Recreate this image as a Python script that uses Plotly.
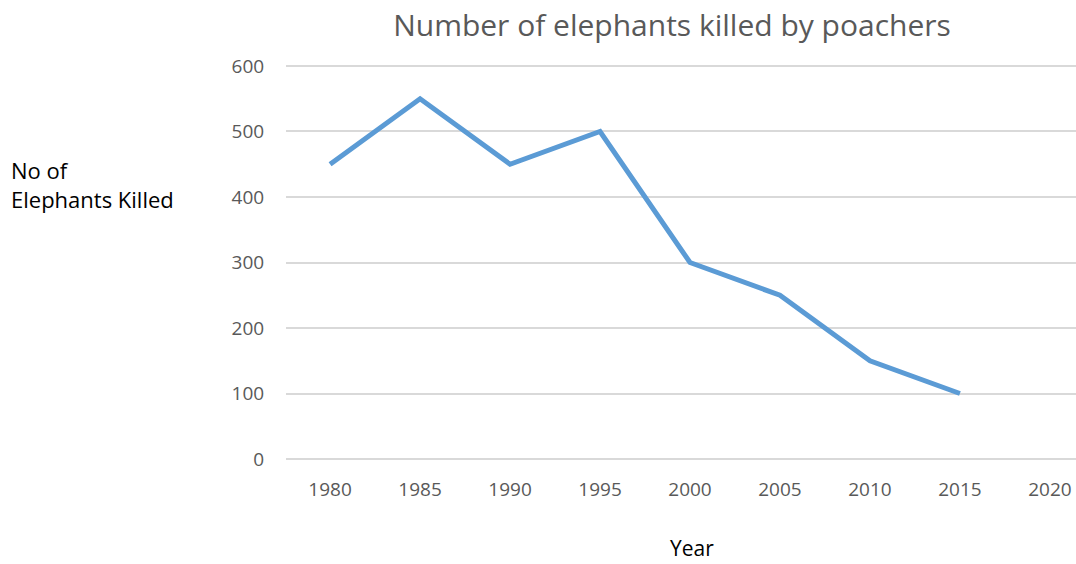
import plotly.graph_objects as go

years = ["1980", "1985", "1990", "1995", "2000", "2005", "2010", "2015", "2020"]
elephants_killed = [450, 550, 450, 500, 300, 250, 150, 100, None]
y_ticks = [0, 100, 200, 300, 400, 500, 600]

W, H = 1076, 564
# y range padded by 3 units each side so the 0 and 600 gridlines are drawn
L, R, T, B = 286, 0, 64, 103

fig = go.Figure(
    go.Scatter(
        x=years,
        y=elephants_killed,
        mode="lines",
        line=dict(color="#5B9BD5", width=5),
        connectgaps=False,
        hoverinfo="x+y",
    )
)

fig.update_layout(
    width=W,
    height=H,
    margin=dict(l=L, r=R, t=T, b=B),
    paper_bgcolor="white",
    plot_bgcolor="white",
    showlegend=False,
    font=dict(family="Open Sans, Noto Sans, sans-serif", color="#595959"),
    title=dict(
        text="Number of elephants killed by poachers",
        x=672 / W,
        xref="container",
        xanchor="center",
        y=1 - 25 / H,
        yref="container",
        yanchor="middle",
        font=dict(size=30, color="#595959"),
    ),
    xaxis=dict(
        type="category",
        categoryorder="array",
        categoryarray=years,
        range=[-0.49, 8.29],
        showgrid=False,
        zeroline=False,
        showline=False,
        ticks="outside",
        ticklen=11,
        tickcolor="rgba(0,0,0,0)",
        tickfont=dict(size=19, color="#595959"),
    ),
    yaxis=dict(
        range=[-3, 603],
        tickvals=y_ticks,
        showgrid=True,
        gridcolor="#D9D9D9",
        gridwidth=1.5,
        zeroline=False,
        showline=False,
        ticks="outside",
        ticklen=17,
        tickcolor="rgba(0,0,0,0)",
        tickfont=dict(size=19, color="#595959"),
    ),
    annotations=[
        dict(
            text="No of<br>Elephants Killed",
            xref="paper", yref="paper",
            x=-(L - 9) / (W - L - R),
            y=1 - (184 - T) / (H - T - B),
            xanchor="left", yanchor="middle",
            align="left",
            showarrow=False,
            font=dict(size=22, color="#000000"),
        ),
        dict(
            text="Year",
            xref="paper", yref="paper",
            x=(692 - L) / (W - L - R),
            y=-(548 - (H - B)) / (H - T - B),
            xanchor="center", yanchor="middle",
            showarrow=False,
            font=dict(size=21, color="#000000"),
        ),
    ],
)

fig.write_html("out.html")
